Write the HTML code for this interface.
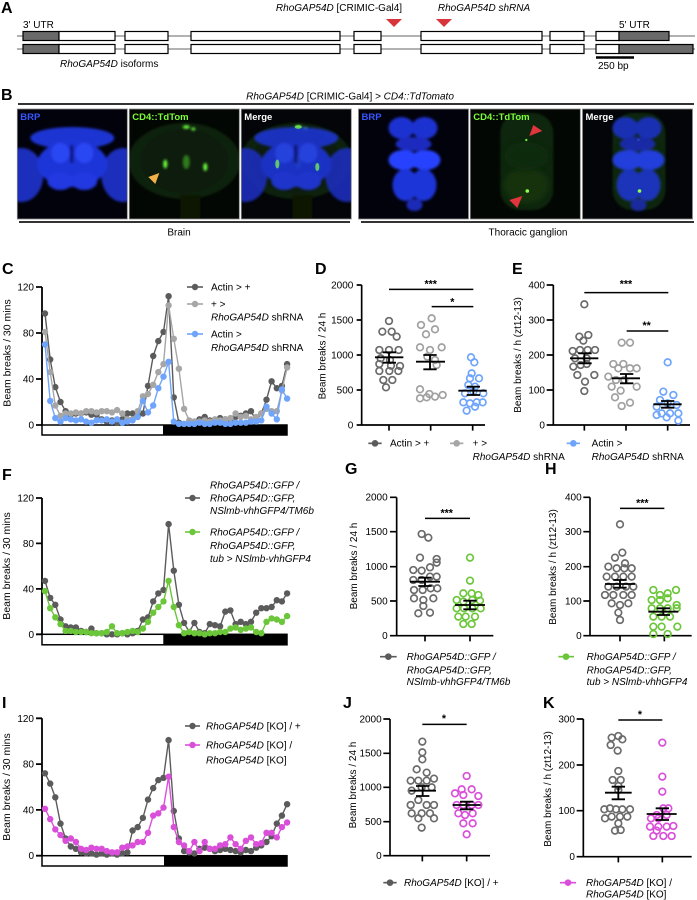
<!DOCTYPE html>
<html><head><meta charset="utf-8"><style>
html,body{margin:0;padding:0;background:#fff}
svg{display:block;font-family:"Liberation Sans",Arial,sans-serif}
</style></head><body>
<svg width="697" height="900" viewBox="0 0 697 900" xmlns="http://www.w3.org/2000/svg">
<defs>
<filter id="b1" x="-20%" y="-20%" width="140%" height="140%"><feGaussianBlur stdDeviation="1.2"/></filter>
<filter id="b3" x="-30%" y="-30%" width="160%" height="160%"><feGaussianBlur stdDeviation="3"/></filter>
<marker id="mDG" markerUnits="userSpaceOnUse" markerWidth="8" markerHeight="8" refX="4" refY="4"><circle cx="4" cy="4" r="3.2" fill="#5b5b5b"/></marker>
<marker id="mLG" markerUnits="userSpaceOnUse" markerWidth="8" markerHeight="8" refX="4" refY="4"><circle cx="4" cy="4" r="3.2" fill="#a6a6a6"/></marker>
<marker id="mBL" markerUnits="userSpaceOnUse" markerWidth="8" markerHeight="8" refX="4" refY="4"><circle cx="4" cy="4" r="3.2" fill="#6ea4fb"/></marker>
<marker id="mGR" markerUnits="userSpaceOnUse" markerWidth="8" markerHeight="8" refX="4" refY="4"><circle cx="4" cy="4" r="3.2" fill="#6cc63a"/></marker>
<marker id="mMG" markerUnits="userSpaceOnUse" markerWidth="8" markerHeight="8" refX="4" refY="4"><circle cx="4" cy="4" r="3.2" fill="#da4fda"/></marker>
<clipPath id="c1"><rect x="0" y="0" width="110" height="110"/></clipPath>
<g id="brainBlue">
 <g filter="url(#b1)">
  <ellipse cx="4" cy="66" rx="22" ry="27" fill="#1c2dbc"/>
  <ellipse cx="106" cy="66" rx="22" ry="27" fill="#1c2dbc"/>
  <ellipse cx="55" cy="29" rx="42" ry="11" fill="#1f34d2"/>
  <ellipse cx="55" cy="55" rx="35" ry="23" fill="#1f35d8"/>
  <ellipse cx="43" cy="72" rx="13" ry="9" fill="#2238e0"/>
  <ellipse cx="67" cy="72" rx="13" ry="9" fill="#2238e0"/>
  <ellipse cx="43" cy="44" rx="9" ry="10" fill="#2a46f4"/>
  <ellipse cx="67" cy="44" rx="9" ry="10" fill="#2a46f4"/>
  <rect x="53" y="36" width="3" height="18" fill="#0a1170"/>
 </g>
</g>
<g id="brainGreen">
 <g filter="url(#b1)">
  <ellipse cx="55" cy="52" rx="56" ry="38" fill="#0e220a"/>
  <ellipse cx="55" cy="52" rx="44" ry="32" fill="#0b1c07"/>
  <rect x="51" y="86" width="20" height="24" fill="#091806"/>
 </g>
 <g filter="url(#b1)" fill="#6cff3c">
  <ellipse cx="57" cy="18" rx="3.5" ry="1.8"/>
  <ellipse cx="64" cy="20" rx="2" ry="1.5"/>
  <ellipse cx="36" cy="55" rx="2" ry="4.5"/>
  <ellipse cx="76" cy="58" rx="2" ry="4"/>
  <ellipse cx="57" cy="53" rx="3.5" ry="7" fill="#2f7a1c"/>
 </g>
</g>
<g id="tgBlue">
 <g filter="url(#b1)">
  <ellipse cx="43" cy="19" rx="13" ry="11" fill="#1d32d0"/>
  <ellipse cx="66" cy="19" rx="13" ry="11" fill="#1d32d0"/>
  <ellipse cx="55" cy="35" rx="18" ry="7" fill="#1a2cc0"/>
  <ellipse cx="45" cy="51" rx="15" ry="10" fill="#2842ff"/>
  <ellipse cx="67" cy="51" rx="15" ry="10" fill="#2842ff"/>
  <ellipse cx="47" cy="76" rx="13" ry="16" fill="#1f35d8"/>
  <ellipse cx="65" cy="76" rx="13" ry="16" fill="#1f35d8"/>
  <ellipse cx="56" cy="96" rx="8" ry="6" fill="#1a2cb8"/>
 </g>
</g>
<g id="tgGreen">
 <rect x="30" y="4" width="53" height="97" rx="20" fill="#0d2509" filter="url(#b1)"/>
 <ellipse cx="56" cy="76" rx="22" ry="18" fill="#14330d" filter="url(#b3)"/>
 <ellipse cx="56" cy="47" rx="22" ry="14" fill="#112a0b" filter="url(#b3)"/>
 <circle cx="57" cy="82" r="1.8" fill="#8dff50"/>
 <circle cx="56" cy="31" r="1.2" fill="#6ee040"/>
</g>
</defs>

<!-- ============ PANEL A ============ -->
<text x="1" y="13" font-size="16" font-weight="bold">A</text>
<g font-size="10">
<text x="339" y="11" text-anchor="middle"><tspan font-style="italic">RhoGAP54D</tspan> [CRIMIC-Gal4]</text>
<text x="484" y="11" text-anchor="middle" font-style="italic">RhoGAP54D shRNA</text>
<text x="23" y="28">3' UTR</text>
<text x="619" y="28">5' UTR</text>
<text x="60" y="67"><tspan font-style="italic">RhoGAP54D</tspan> isoforms</text>
<text x="598" y="69">250 bp</text>
</g>
<polygon points="386,19 402,19 394,27" fill="#d8343b"/>
<polygon points="436,19 452,19 444,27" fill="#d8343b"/>
<line x1="17" y1="36" x2="695" y2="36" stroke="#999" stroke-width="1.5"/>
<line x1="17" y1="49" x2="695" y2="49" stroke="#999" stroke-width="1.5"/>
<g stroke="#000" stroke-width="1.2" fill="#fff">
 <rect x="23" y="31.5" width="36" height="9" fill="#6a6a6a"/><rect x="59" y="31.5" width="56" height="9"/>
 <rect x="125" y="31.5" width="43" height="9"/><rect x="191" y="31.5" width="149" height="9"/>
 <rect x="354" y="31.5" width="27" height="9"/><rect x="421" y="31.5" width="121" height="9"/>
 <rect x="550" y="31.5" width="34" height="9"/><rect x="596" y="31.5" width="23" height="9"/>
 <rect x="619" y="31.5" width="50" height="9" fill="#6a6a6a"/>
 <rect x="23" y="44.5" width="36" height="9" fill="#6a6a6a"/><rect x="59" y="44.5" width="56" height="9"/>
 <rect x="125" y="44.5" width="43" height="9"/><rect x="191" y="44.5" width="149" height="9"/>
 <rect x="354" y="44.5" width="27" height="9"/><rect x="421" y="44.5" width="121" height="9"/>
 <rect x="550" y="44.5" width="34" height="9"/><rect x="596" y="44.5" width="23" height="9"/>
 <rect x="619" y="44.5" width="74" height="9" fill="#6a6a6a"/>
</g>
<line x1="596" y1="57.5" x2="634" y2="57.5" stroke="#000" stroke-width="2.5"/>

<!-- ============ PANEL B ============ -->
<text x="1" y="100" font-size="16" font-weight="bold">B</text>
<text x="350" y="99.5" font-size="10" text-anchor="middle"><tspan font-style="italic">RhoGAP54D</tspan> [CRIMIC-Gal4]  <tspan font-style="italic">&gt; CD4::TdTomato</tspan></text>
<line x1="18" y1="104" x2="694" y2="104" stroke="#333" stroke-width="2"/>
<line x1="19" y1="222" x2="350" y2="222" stroke="#333" stroke-width="2"/>
<line x1="361" y1="222" x2="694" y2="222" stroke="#333" stroke-width="2"/>
<text x="179" y="235.5" font-size="10" text-anchor="middle">Brain</text>
<text x="528" y="235.5" font-size="10" text-anchor="middle">Thoracic ganglion</text>

<g transform="translate(17.3,109)"><g clip-path="url(#c1)"><rect width="110" height="110" fill="#02020c"/><use href="#brainBlue"/></g><rect width="110" height="110" fill="none" stroke="#8a8a8a" stroke-width="0.8"/><text x="3" y="11" font-size="9.5" font-weight="bold" fill="#3656ff">BRP</text></g>
<g transform="translate(129.3,109)"><g clip-path="url(#c1)"><rect width="110" height="110" fill="#030703"/><use href="#brainGreen"/><polygon points="30,64 19,68 26,75" fill="#f2b24a"/></g><rect width="110" height="110" fill="none" stroke="#8a8a8a" stroke-width="0.8"/><text x="3" y="11" font-size="9.5" font-weight="bold" fill="#7dff3a">CD4::TdTom</text></g>
<g transform="translate(241.3,109)"><g clip-path="url(#c1)"><rect width="110" height="110" fill="#030508"/><use href="#brainGreen"/><use href="#brainBlue" opacity="0.9"/><g fill="#7dff4a" opacity="0.7"><ellipse cx="57" cy="18" rx="3.5" ry="1.8"/><ellipse cx="36" cy="55" rx="2" ry="4.5"/><ellipse cx="76" cy="58" rx="2" ry="4"/></g></g><rect width="110" height="110" fill="none" stroke="#8a8a8a" stroke-width="0.8"/><text x="3" y="11" font-size="9.5" font-weight="bold" fill="#fff">Merge</text></g>
<g transform="translate(358.5,109)"><g clip-path="url(#c1)"><rect width="110" height="110" fill="#02020c"/><use href="#tgBlue"/></g><rect width="110" height="110" fill="none" stroke="#8a8a8a" stroke-width="0.8"/><text x="3" y="11" font-size="9.5" font-weight="bold" fill="#3656ff">BRP</text></g>
<g transform="translate(470.3,109)"><g clip-path="url(#c1)"><rect width="110" height="110" fill="#030703"/><use href="#tgGreen"/><polygon points="59,27 63,16 72,22" fill="#e0353c"/><polygon points="52,87 39,91 47,99" fill="#e0353c"/></g><rect width="110" height="110" fill="none" stroke="#8a8a8a" stroke-width="0.8"/><text x="3" y="11" font-size="9.5" font-weight="bold" fill="#7dff3a">CD4::TdTom</text></g>
<g transform="translate(582.5,109)"><g clip-path="url(#c1)"><rect width="110" height="110" fill="#030508"/><use href="#tgGreen"/><use href="#tgBlue" opacity="0.85"/><circle cx="57" cy="82" r="1.8" fill="#8dff50"/></g><rect width="110" height="110" fill="none" stroke="#8a8a8a" stroke-width="0.8"/><text x="3" y="11" font-size="9.5" font-weight="bold" fill="#fff">Merge</text></g>

<!-- ============ PANEL C ============ -->
<text x="2" y="274" font-size="16" font-weight="bold">C</text>
<text transform="translate(10.5,353) rotate(-90)" font-size="10.5" text-anchor="middle">Beam breaks / 30 mins</text>
<g font-size="10" text-anchor="end"><text x="34" y="290.5">120</text><text x="34" y="336.5">80</text><text x="34" y="382.5">40</text><text x="34" y="428.5">0</text></g>
<path d="M42 287V426M36 287H42M36 333H42M36 379H42M36 425H42" stroke="#000" stroke-width="1.8" fill="none"/>
<rect x="42" y="425" width="245" height="10" fill="#fff" stroke="#000" stroke-width="1.5"/>
<rect x="163" y="425" width="124" height="10" fill="#000"/>
<g fill="none" stroke-width="1.4">
<polyline stroke="#5b5b5b" marker-start="url(#mDG)" marker-mid="url(#mDG)" marker-end="url(#mDG)" points="45,313.5 50.2,359.5 55.3,387.1 60.5,402 65.6,411.2 70.8,414.7 75.9,413.5 81.1,413.5 86.2,412.4 91.4,414.7 96.5,414.7 101.7,419.3 106.8,421.6 112,420.4 117.1,422.7 122.3,419.3 127.4,413.5 132.6,413.5 137.7,415.8 142.9,413.5 148,385.9 153.2,356 158.3,341.1 163.5,331.9 168.6,296.2 173.8,397.4 178.9,422.7 184.1,423.9 189.2,422.7 194.4,421.6 199.5,419.3 204.7,417 209.8,420.4 215,421.6 220.1,418.1 225.3,419.3 230.4,419.3 235.6,417 240.7,415.8 245.9,413.5 251,411.2 256.2,420.4 261.3,413.5 266.5,399.7 271.6,381.3 276.8,388.2 281.9,385.9 287.1,364.1"/>
<polyline stroke="#a6a6a6" marker-start="url(#mLG)" marker-mid="url(#mLG)" marker-end="url(#mLG)" points="45,331.9 50.2,372.1 55.3,405.5 60.5,415.8 65.6,413.5 70.8,413.5 75.9,412.4 81.1,413.5 86.2,411.2 91.4,411.2 96.5,412.4 101.7,411.2 106.8,411.2 112,412.4 117.1,410.1 122.3,413.5 127.4,419.3 132.6,419.3 137.7,411.2 142.9,396.3 148,394 153.2,384.8 158.3,372.1 163.5,364.1 168.6,305.4 173.8,338.8 178.9,368.7 184.1,408.9 189.2,420.4 194.4,421.6 199.5,421.6 204.7,420.4 209.8,421.6 215,419.3 220.1,420.4 225.3,419.3 230.4,418.1 235.6,413.5 240.7,417 245.9,415.8 251,419.3 256.2,417 261.3,413.5 266.5,408.9 271.6,411.2 276.8,411.2 281.9,390.5 287.1,367.5"/>
<polyline stroke="#6ea4fb" marker-start="url(#mBL)" marker-mid="url(#mBL)" marker-end="url(#mBL)" points="45,344.5 50.2,400.9 55.3,418.1 60.5,421.6 65.6,418.1 70.8,419.3 75.9,420.4 81.1,419.3 86.2,421.6 91.4,422.7 96.5,420.4 101.7,420.4 106.8,419.3 112,421.6 117.1,419.3 122.3,422.7 127.4,421.6 132.6,420.4 137.7,417 142.9,400.9 148,412.4 153.2,405.5 158.3,388.2 163.5,376.7 168.6,361.8 173.8,421.6 178.9,423.9 184.1,423.9 189.2,423.9 194.4,423.9 199.5,422.7 204.7,423.9 209.8,423.9 215,422.7 220.1,422.7 225.3,423.9 230.4,423.9 235.6,422.7 240.7,422.7 245.9,422.7 251,421.6 256.2,421.6 261.3,420.4 266.5,406.6 271.6,413.5 276.8,419.3 281.9,389.4 287.1,398.6"/>
</g>
<g stroke-width="1.6">
<line x1="187" y1="287" x2="203" y2="287" stroke="#5b5b5b"/><circle cx="195" cy="287" r="3.2" fill="#5b5b5b"/>
<line x1="187" y1="304" x2="203" y2="304" stroke="#a6a6a6"/><circle cx="195" cy="304" r="3.2" fill="#a6a6a6"/>
<line x1="187" y1="334" x2="203" y2="334" stroke="#6ea4fb"/><circle cx="195" cy="334" r="3.2" fill="#6ea4fb"/>
</g>
<g font-size="10">
<text x="211" y="290.5">Actin &gt; +</text>
<text x="211" y="307.5">+ &gt;</text>
<text x="211" y="320.5"><tspan font-style="italic">RhoGAP54D</tspan> shRNA</text>
<text x="211" y="337.5">Actin &gt;</text>
<text x="211" y="351"><tspan font-style="italic">RhoGAP54D</tspan> shRNA</text>
</g>

<!-- ============ PANEL D / E ============ -->
<text x="315" y="274" font-size="16" font-weight="bold">D</text>
<text x="512" y="274" font-size="16" font-weight="bold">E</text>
<text transform="translate(325.5,356) rotate(-90)" font-size="10" text-anchor="middle">Beam breaks / 24 h</text>
<text transform="translate(521,355) rotate(-90)" font-size="10" text-anchor="middle">Beam breaks /  h (zt12-13)</text>
<g transform="translate(290,240) scale(0.333333)" font-size="30">
 <path d="M215 135V555H585M200 135H215M200 240H215M200 345H215M200 450H215M200 555H215M297 555V572M422 555V572M548 555V572" stroke="#000" stroke-width="5" fill="none"/>
 <g text-anchor="end"><text x="190" y="145">2000</text><text x="190" y="250">1500</text><text x="190" y="355">1000</text><text x="190" y="460">500</text><text x="190" y="565">0</text></g>
 <path d="M790 135V555H1200M770 135H790M770 240H790M770 345H790M770 450H790M770 555H790M883 555V572M1008 555V572M1133 555V572" stroke="#000" stroke-width="5" fill="none"/>
 <g text-anchor="end"><text x="765" y="145">400</text><text x="765" y="250">300</text><text x="765" y="355">200</text><text x="765" y="460">100</text><text x="765" y="565">0</text></g>
 <path d="M297 148H550M425 200H550M883 158H1135M1010 273H1135" stroke="#000" stroke-width="4.5"/>
 <g text-anchor="middle" font-weight="bold" font-size="32"><text x="422" y="142">***</text><text x="487" y="196">*</text><text x="1008" y="142">***</text><text x="1070" y="267">**</text></g>
 <g fill="none" stroke-width="5">
  <g stroke="#6b6b6b">
   <circle cx="297" cy="243" r="10"/><circle cx="277" cy="275" r="10"/><circle cx="305" cy="275" r="10"/><circle cx="320" cy="290" r="10"/><circle cx="268" cy="330" r="10"/><circle cx="297" cy="330" r="10"/><circle cx="326" cy="330" r="10"/><circle cx="272" cy="355" r="10"/><circle cx="300" cy="360" r="10"/><circle cx="268" cy="372" r="10"/><circle cx="303" cy="377" r="10"/><circle cx="330" cy="378" r="10"/><circle cx="268" cy="393" r="10"/><circle cx="298" cy="393" r="10"/><circle cx="325" cy="393" r="10"/><circle cx="280" cy="420" r="10"/><circle cx="307" cy="420" r="10"/><circle cx="288" cy="442" r="10"/>
   <circle cx="883" cy="193" r="10"/><circle cx="868" cy="290" r="10"/><circle cx="895" cy="285" r="10"/><circle cx="880" cy="302" r="10"/><circle cx="848" cy="333" r="10"/><circle cx="870" cy="330" r="10"/><circle cx="893" cy="330" r="10"/><circle cx="915" cy="330" r="10"/><circle cx="855" cy="355" r="10"/><circle cx="890" cy="355" r="10"/><circle cx="850" cy="380" r="10"/><circle cx="872" cy="375" r="10"/><circle cx="890" cy="372" r="10"/><circle cx="913" cy="405" r="10"/><circle cx="862" cy="405" r="10"/><circle cx="885" cy="425" r="10"/><circle cx="883" cy="453" r="10"/>
  </g>
  <g stroke="#a0a0a0">
   <circle cx="425" cy="235" r="10"/><circle cx="393" cy="255" r="10"/><circle cx="435" cy="268" r="10"/><circle cx="408" cy="283" r="10"/><circle cx="390" cy="322" r="10"/><circle cx="455" cy="322" r="10"/><circle cx="420" cy="330" r="10"/><circle cx="412" cy="350" r="10"/><circle cx="435" cy="360" r="10"/><circle cx="440" cy="375" r="10"/><circle cx="390" cy="448" r="10"/><circle cx="418" cy="462" r="10"/><circle cx="390" cy="475" r="10"/><circle cx="410" cy="472" r="10"/><circle cx="435" cy="470" r="10"/><circle cx="458" cy="465" r="10"/>
   <circle cx="995" cy="308" r="10"/><circle cx="1020" cy="308" r="10"/><circle cx="970" cy="372" r="10"/><circle cx="1000" cy="372" r="10"/><circle cx="1040" cy="385" r="10"/><circle cx="985" cy="385" r="10"/><circle cx="1020" cy="385" r="10"/><circle cx="955" cy="410" r="10"/><circle cx="978" cy="420" r="10"/><circle cx="1003" cy="420" r="10"/><circle cx="1040" cy="440" r="10"/><circle cx="965" cy="440" r="10"/><circle cx="992" cy="452" r="10"/><circle cx="975" cy="472" r="10"/><circle cx="1020" cy="488" r="10"/><circle cx="995" cy="498" r="10"/>
  </g>
  <g stroke="#6ea4fb">
   <circle cx="543" cy="352" r="10"/><circle cx="553" cy="367" r="10"/><circle cx="545" cy="400" r="10"/><circle cx="540" cy="415" r="10"/><circle cx="567" cy="415" r="10"/><circle cx="535" cy="435" r="10"/><circle cx="555" cy="440" r="10"/><circle cx="525" cy="460" r="10"/><circle cx="550" cy="455" r="10"/><circle cx="580" cy="460" r="10"/><circle cx="520" cy="487" r="10"/><circle cx="540" cy="490" r="10"/><circle cx="560" cy="487" r="10"/><circle cx="578" cy="487" r="10"/><circle cx="530" cy="512" r="10"/><circle cx="555" cy="500" r="10"/>
   <circle cx="1133" cy="367" r="10"/><circle cx="1120" cy="455" r="10"/><circle cx="1150" cy="465" r="10"/><circle cx="1110" cy="480" r="10"/><circle cx="1133" cy="490" r="10"/><circle cx="1100" cy="500" r="10"/><circle cx="1160" cy="495" r="10"/><circle cx="1115" cy="520" r="10"/><circle cx="1140" cy="520" r="10"/><circle cx="1165" cy="520" r="10"/><circle cx="1100" cy="525" r="10"/><circle cx="1130" cy="532" r="10"/><circle cx="1165" cy="542" r="10"/>
  </g>
 </g>
 <path d="M255 352H340M297 337V368M278 337H318M278 368H318 M378 365H465M420 345V388M400 345H440M400 388H440 M505 452H590M550 440V465M530 440H570M530 465H570 M840 355H925M883 340V370M865 340H905M865 370H905 M965 415H1050M1008 402V430M990 402H1030M990 430H1030 M1090 493H1175M1133 483V503M1113 483H1153M1113 503H1153" stroke="#000" stroke-width="5.5" fill="none"/>
 <g stroke-width="5">
  <line x1="235" y1="610" x2="275" y2="610" stroke="#5b5b5b"/><circle cx="255" cy="610" r="10" fill="#5b5b5b"/>
  <line x1="480" y1="610" x2="520" y2="610" stroke="#a6a6a6"/><circle cx="500" cy="610" r="10" fill="#a6a6a6"/>
  <line x1="830" y1="610" x2="870" y2="610" stroke="#6ea4fb"/><circle cx="850" cy="610" r="10" fill="#6ea4fb"/>
 </g>
 <text x="300" y="620">Actin &gt; +</text>
 <text x="548" y="620">+ &gt;</text>
 <text x="548" y="660"><tspan font-style="italic">RhoGAP54D</tspan> shRNA</text>
 <text x="905" y="620">Actin &gt;</text>
 <text x="905" y="660"><tspan font-style="italic">RhoGAP54D</tspan> shRNA</text>
</g>

<!-- ============ PANEL F ============ -->
<text x="2" y="480" font-size="16" font-weight="bold">F</text>
<text transform="translate(10,566) rotate(-90)" font-size="10.5" text-anchor="middle">Beam breaks / 30 mins</text>
<g font-size="10" text-anchor="end"><text x="34" y="501.5">120</text><text x="34" y="547">80</text><text x="34" y="592.4">40</text><text x="34" y="637.8">0</text></g>
<path d="M42 498V635M36 498H42M36 543.4H42M36 588.9H42M36 634.3H42" stroke="#000" stroke-width="1.8" fill="none"/>
<rect x="42" y="634.3" width="245" height="10.5" fill="#fff" stroke="#000" stroke-width="1.5"/>
<rect x="163.3" y="634.3" width="123.7" height="10.5" fill="#000"/>
<g fill="none" stroke-width="1.4">
<polyline stroke="#5b5b5b" marker-start="url(#mDG)" marker-mid="url(#mDG)" marker-end="url(#mDG)" points="45,580.9 50.2,597.9 55.3,604.8 60.5,619.5 65.6,626.3 70.8,627.5 75.9,627.5 81.1,630.9 86.2,632 91.4,628.6 96.5,633.2 101.7,633.2 106.8,634.3 112,634.3 117.1,634.3 122.3,633.2 127.4,634.3 132.6,633.2 137.7,630.9 142.9,619.5 148,617.3 153.2,601.4 158.3,593.4 163.5,590 168.6,524.1 173.8,570.7 178.9,604.8 184.1,622.9 189.2,632 194.4,622.9 199.5,632 204.7,633.2 209.8,624.1 215,625.2 220.1,626.3 225.3,611.6 230.4,610.4 235.6,624.1 240.7,621.8 245.9,624.1 251,621.8 256.2,612.7 261.3,608.2 266.5,608.2 271.6,607 276.8,600.2 281.9,601.4 287.1,593.4"/>
<polyline stroke="#6cc63a" marker-start="url(#mGR)" marker-mid="url(#mGR)" marker-end="url(#mGR)" points="45,591.1 50.2,608.2 55.3,617.3 60.5,624.1 65.6,630.9 70.8,630.9 75.9,632 81.1,632 86.2,632 91.4,633.2 96.5,633.2 101.7,633.2 106.8,632 112,626.3 117.1,633.2 122.3,633.2 127.4,632 132.6,630.9 137.7,632 142.9,628.6 148,621.8 153.2,612.7 158.3,607 163.5,601.4 168.6,580.9 173.8,607 178.9,625.2 184.1,633.2 189.2,632 194.4,633.2 199.5,633.2 204.7,634.3 209.8,633.2 215,633.2 220.1,632 225.3,632 230.4,628.6 235.6,627.5 240.7,629.8 245.9,628.6 251,627.5 256.2,632 261.3,633.2 266.5,621.8 271.6,618.4 276.8,619.5 281.9,621.8 287.1,616.1"/>
</g>
<g stroke-width="1.6">
<line x1="185" y1="498" x2="200" y2="498" stroke="#5b5b5b"/><circle cx="192.5" cy="498" r="3.2" fill="#5b5b5b"/>
<line x1="185" y1="532" x2="200" y2="532" stroke="#6cc63a"/><circle cx="192.5" cy="532" r="3.2" fill="#6cc63a"/>
</g>
<g font-size="10" font-style="italic">
<text x="210" y="488.5">RhoGAP54D::GFP /</text>
<text x="210" y="501.5">RhoGAP54D::GFP,</text>
<text x="210" y="514">NSlmb-vhhGFP4/TM6b</text>
<text x="210" y="535.5">RhoGAP54D::GFP /</text>
<text x="210" y="549">RhoGAP54D::GFP,</text>
<text x="210" y="562">tub &gt; NSlmb-vhhGFP4</text>
</g>

<!-- ============ PANEL G / H ============ -->
<text x="345" y="474" font-size="16" font-weight="bold">G</text>
<text x="545" y="474" font-size="16" font-weight="bold">H</text>
<text transform="translate(357,566) rotate(-90)" font-size="10" text-anchor="middle">Beam breaks / 24 h</text>
<text transform="translate(556,567) rotate(-90)" font-size="10" text-anchor="middle">Beam breaks /  h (zt12-13)</text>
<g transform="translate(290,480) scale(0.333333)" font-size="30">
 <path d="M320 52V467H610M300 52H320M300 155H320M300 260H320M300 363H320M300 467H320M405 467V484M540 467V484" stroke="#000" stroke-width="5" fill="none"/>
 <g text-anchor="end"><text x="293" y="62">2000</text><text x="293" y="165">1500</text><text x="293" y="270">1000</text><text x="293" y="373">500</text><text x="293" y="477">0</text></g>
 <path d="M900 52V467H1205M880 52H900M880 155H900M880 260H900M880 363H900M880 467H900M990 467V484M1123 467V484" stroke="#000" stroke-width="5" fill="none"/>
 <g text-anchor="end"><text x="875" y="62">400</text><text x="875" y="165">300</text><text x="875" y="270">200</text><text x="875" y="373">100</text><text x="875" y="477">0</text></g>
 <path d="M405 115H540M990 85H1123" stroke="#000" stroke-width="4.5"/>
 <g text-anchor="middle" font-weight="bold" font-size="32"><text x="470" y="110">***</text><text x="1057" y="80">***</text></g>
 <g fill="none" stroke-width="5">
  <g stroke="#6b6b6b">
   <circle cx="395" cy="162" r="10"/><circle cx="415" cy="173" r="10"/><circle cx="390" cy="233" r="10"/><circle cx="440" cy="237" r="10"/><circle cx="370" cy="270" r="10"/><circle cx="395" cy="272" r="10"/><circle cx="420" cy="262" r="10"/><circle cx="440" cy="248" r="10"/><circle cx="370" cy="300" r="10"/><circle cx="395" cy="300" r="10"/><circle cx="420" cy="290" r="10"/><circle cx="440" cy="290" r="10"/><circle cx="372" cy="330" r="10"/><circle cx="398" cy="330" r="10"/><circle cx="422" cy="325" r="10"/><circle cx="442" cy="325" r="10"/><circle cx="372" cy="355" r="10"/><circle cx="400" cy="360" r="10"/><circle cx="430" cy="355" r="10"/><circle cx="385" cy="400" r="10"/><circle cx="420" cy="398" r="10"/><circle cx="400" cy="378" r="10"/>
   <circle cx="990" cy="133" r="10"/><circle cx="997" cy="218" r="10"/><circle cx="975" cy="233" r="10"/><circle cx="1005" cy="250" r="10"/><circle cx="955" cy="260" r="10"/><circle cx="980" cy="265" r="10"/><circle cx="1003" cy="265" r="10"/><circle cx="1025" cy="265" r="10"/><circle cx="950" cy="290" r="10"/><circle cx="975" cy="290" r="10"/><circle cx="1000" cy="290" r="10"/><circle cx="1025" cy="290" r="10"/><circle cx="955" cy="320" r="10"/><circle cx="980" cy="320" r="10"/><circle cx="1008" cy="320" r="10"/><circle cx="1030" cy="320" r="10"/><circle cx="945" cy="345" r="10"/><circle cx="970" cy="345" r="10"/><circle cx="1000" cy="345" r="10"/><circle cx="1025" cy="345" r="10"/><circle cx="965" cy="370" r="10"/><circle cx="990" cy="375" r="10"/><circle cx="1015" cy="370" r="10"/><circle cx="985" cy="398" r="10"/><circle cx="990" cy="420" r="10"/>
  </g>
  <g stroke="#6cc63a">
   <circle cx="540" cy="233" r="10"/><circle cx="540" cy="302" r="10"/><circle cx="520" cy="340" r="10"/><circle cx="545" cy="340" r="10"/><circle cx="565" cy="345" r="10"/><circle cx="500" cy="360" r="10"/><circle cx="520" cy="365" r="10"/><circle cx="547" cy="360" r="10"/><circle cx="570" cy="362" r="10"/><circle cx="500" cy="385" r="10"/><circle cx="522" cy="385" r="10"/><circle cx="547" cy="385" r="10"/><circle cx="572" cy="385" r="10"/><circle cx="505" cy="410" r="10"/><circle cx="527" cy="410" r="10"/><circle cx="555" cy="410" r="10"/><circle cx="520" cy="432" r="10"/><circle cx="545" cy="432" r="10"/>
   <circle cx="1090" cy="330" r="10"/><circle cx="1110" cy="345" r="10"/><circle cx="1133" cy="340" r="10"/><circle cx="1158" cy="330" r="10"/><circle cx="1085" cy="360" r="10"/><circle cx="1110" cy="360" r="10"/><circle cx="1133" cy="355" r="10"/><circle cx="1160" cy="375" r="10"/><circle cx="1085" cy="385" r="10"/><circle cx="1110" cy="385" r="10"/><circle cx="1133" cy="385" r="10"/><circle cx="1160" cy="385" r="10"/><circle cx="1090" cy="410" r="10"/><circle cx="1115" cy="410" r="10"/><circle cx="1140" cy="410" r="10"/><circle cx="1162" cy="440" r="10"/><circle cx="1090" cy="440" r="10"/><circle cx="1115" cy="440" r="10"/><circle cx="1090" cy="462" r="10"/><circle cx="1133" cy="462" r="10"/>
  </g>
 </g>
 <path d="M360 305H450M405 293V318M385 293H425M385 318H425 M495 375H585M540 362V388M520 362H560M520 388H560 M945 312H1035M990 300V323M970 300H1010M970 323H1010 M1075 395H1165M1120 385V405M1100 385H1140M1100 405H1140" stroke="#000" stroke-width="5.5" fill="none"/>
 <g stroke-width="5">
  <line x1="270" y1="530" x2="320" y2="530" stroke="#5b5b5b"/><circle cx="295" cy="530" r="10" fill="#5b5b5b"/>
  <line x1="805" y1="530" x2="852" y2="530" stroke="#6cc63a"/><circle cx="828" cy="530" r="10" fill="#6cc63a"/>
 </g>
 <g font-style="italic">
  <text x="350" y="540">RhoGAP54D::GFP /</text><text x="350" y="580">RhoGAP54D::GFP,</text><text x="350" y="615">NSlmb-vhhGFP4/TM6b</text>
  <text x="890" y="540">RhoGAP54D::GFP /</text><text x="890" y="580">RhoGAP54D::GFP,</text><text x="890" y="615">tub &gt; NSlmb-vhhGFP4</text>
 </g>
</g>

<!-- ============ PANEL I ============ -->
<text x="2" y="708" font-size="16" font-weight="bold">I</text>
<text transform="translate(10,787) rotate(-90)" font-size="10.5" text-anchor="middle">Beam breaks / 30 mins</text>
<g font-size="10" text-anchor="end"><text x="34" y="721.8">120</text><text x="34" y="767.6">80</text><text x="34" y="813.4">40</text><text x="34" y="859.2">0</text></g>
<path d="M42 718.3V856.5M36 718.3H42M36 764.1H42M36 809.9H42M36 855.7H42" stroke="#000" stroke-width="1.8" fill="none"/>
<rect x="42" y="855.7" width="245" height="10.3" fill="#fff" stroke="#000" stroke-width="1.5"/>
<rect x="164" y="855.7" width="123" height="10.3" fill="#000"/>
<g fill="none" stroke-width="1.4">
<polyline stroke="#5b5b5b" marker-start="url(#mDG)" marker-mid="url(#mDG)" marker-end="url(#mDG)" points="45,773.3 50.2,783.6 55.3,797.3 60.5,823.6 65.6,838.5 70.8,846.5 75.9,848.8 81.1,852.3 86.2,853.4 91.4,853.4 96.5,854.6 101.7,853.4 106.8,854.6 112,853.4 117.1,854.6 122.3,853.4 127.4,852.3 132.6,830.5 137.7,827.1 142.9,817.9 148,799.6 153.2,788.1 158.3,780.1 163.5,777.8 168.6,740.1 173.8,811 178.9,838.5 184.1,851.1 189.2,852.3 194.4,853.4 199.5,848.8 204.7,847.7 209.8,848.8 215,851.1 220.1,850 225.3,848.8 230.4,850 235.6,851.1 240.7,852.3 245.9,850 251,851.1 256.2,847.7 261.3,845.4 266.5,842 271.6,836.2 276.8,823.6 281.9,815.6 287.1,804.2"/>
<polyline stroke="#da4fda" marker-start="url(#mMG)" marker-mid="url(#mMG)" marker-end="url(#mMG)" points="45,808.8 50.2,819.1 55.3,829.4 60.5,835.1 65.6,840.8 70.8,838.5 75.9,842 81.1,848.8 86.2,850 91.4,847.7 96.5,848.8 101.7,848.8 106.8,851.1 112,852.3 117.1,852.3 122.3,847.7 127.4,846.5 132.6,845.4 137.7,842 142.9,842 148,832.8 153.2,815.6 158.3,813.3 163.5,807.6 168.6,776.7 173.8,827.1 178.9,842 184.1,845.4 189.2,851.1 194.4,842 199.5,851.1 204.7,842 209.8,848.8 215,848.8 220.1,845.4 225.3,844.2 230.4,837.4 235.6,844.2 240.7,848.8 245.9,840.8 251,837.4 256.2,844.2 261.3,843.1 266.5,832.8 271.6,832.8 276.8,837.4 281.9,827.1 287.1,822.5"/>
</g>
<g stroke-width="1.6">
<line x1="185" y1="726" x2="200" y2="726" stroke="#5b5b5b"/><circle cx="192.5" cy="726" r="3.2" fill="#5b5b5b"/>
<line x1="185" y1="745" x2="200" y2="745" stroke="#da4fda"/><circle cx="192.5" cy="745" r="3.2" fill="#da4fda"/>
</g>
<g font-size="10">
<text x="206" y="729.5"><tspan font-style="italic">RhoGAP54D</tspan> [KO] / +</text>
<text x="206" y="748.5"><tspan font-style="italic">RhoGAP54D</tspan> [KO] /</text>
<text x="206" y="763.5"><tspan font-style="italic">RhoGAP54D</tspan> [KO]</text>
</g>

<!-- ============ PANEL J / K ============ -->
<text x="343" y="708" font-size="16" font-weight="bold">J</text>
<text x="543" y="708" font-size="16" font-weight="bold">K</text>
<text transform="translate(356,785) rotate(-90)" font-size="10" text-anchor="middle">Beam breaks / 24 h</text>
<text transform="translate(551,789) rotate(-90)" font-size="10" text-anchor="middle">Beam breaks /  h (zt12-13)</text>
<g transform="translate(290,700) scale(0.333333)" font-size="30">
 <path d="M300 57V467H600M280 57H300M280 160H300M280 262H300M280 365H300M280 467H300M397 467V484M530 467V484" stroke="#000" stroke-width="5" fill="none"/>
 <g text-anchor="end"><text x="275" y="67">2000</text><text x="275" y="170">1500</text><text x="275" y="272">1000</text><text x="275" y="375">500</text><text x="275" y="477">0</text></g>
 <path d="M880 57V470H1205M860 57H880M860 195H880M860 332H880M860 470H880M985 470V487M1117 470V487" stroke="#000" stroke-width="5" fill="none"/>
 <g text-anchor="end"><text x="855" y="67">300</text><text x="855" y="205">200</text><text x="855" y="342">100</text><text x="855" y="480">0</text></g>
 <path d="M397 73H530M985 60H1117" stroke="#000" stroke-width="4.5"/>
 <g text-anchor="middle" font-weight="bold" font-size="32"><text x="462" y="66">*</text><text x="1050" y="54">*</text></g>
 <g fill="none" stroke-width="5">
  <g stroke="#6b6b6b">
   <circle cx="397" cy="125" r="10"/><circle cx="397" cy="157" r="10"/><circle cx="397" cy="178" r="10"/><circle cx="380" cy="208" r="10"/><circle cx="410" cy="218" r="10"/><circle cx="362" cy="242" r="10"/><circle cx="385" cy="242" r="10"/><circle cx="410" cy="242" r="10"/><circle cx="432" cy="236" r="10"/><circle cx="365" cy="272" r="10"/><circle cx="395" cy="262" r="10"/><circle cx="425" cy="262" r="10"/><circle cx="362" cy="315" r="10"/><circle cx="385" cy="300" r="10"/><circle cx="410" cy="315" r="10"/><circle cx="432" cy="315" r="10"/><circle cx="365" cy="340" r="10"/><circle cx="395" cy="340" r="10"/><circle cx="420" cy="340" r="10"/><circle cx="385" cy="355" r="10"/><circle cx="432" cy="355" r="10"/><circle cx="395" cy="383" r="10"/>
   <circle cx="985" cy="108" r="10"/><circle cx="965" cy="113" r="10"/><circle cx="997" cy="118" r="10"/><circle cx="983" cy="152" r="10"/><circle cx="962" cy="135" r="10"/><circle cx="985" cy="213" r="10"/><circle cx="968" cy="240" r="10"/><circle cx="992" cy="240" r="10"/><circle cx="985" cy="258" r="10"/><circle cx="960" cy="325" r="10"/><circle cx="978" cy="328" r="10"/><circle cx="997" cy="328" r="10"/><circle cx="1020" cy="328" r="10"/><circle cx="943" cy="328" r="10"/><circle cx="965" cy="350" r="10"/><circle cx="990" cy="350" r="10"/><circle cx="1012" cy="350" r="10"/><circle cx="945" cy="355" r="10"/><circle cx="985" cy="370" r="10"/><circle cx="975" cy="392" r="10"/><circle cx="992" cy="390" r="10"/><circle cx="985" cy="270" r="10"/>
  </g>
  <g stroke="#da4fda">
   <circle cx="530" cy="228" r="10"/><circle cx="515" cy="268" r="10"/><circle cx="545" cy="268" r="10"/><circle cx="495" cy="280" r="10"/><circle cx="520" cy="285" r="10"/><circle cx="565" cy="288" r="10"/><circle cx="500" cy="315" r="10"/><circle cx="520" cy="315" r="10"/><circle cx="545" cy="315" r="10"/><circle cx="565" cy="315" r="10"/><circle cx="505" cy="340" r="10"/><circle cx="525" cy="345" r="10"/><circle cx="548" cy="340" r="10"/><circle cx="520" cy="370" r="10"/><circle cx="548" cy="370" r="10"/><circle cx="530" cy="403" r="10"/>
   <circle cx="1117" cy="128" r="10"/><circle cx="1117" cy="230" r="10"/><circle cx="1117" cy="275" r="10"/><circle cx="1120" cy="325" r="10"/><circle cx="1135" cy="325" r="10"/><circle cx="1100" cy="345" r="10"/><circle cx="1130" cy="345" r="10"/><circle cx="1083" cy="355" r="10"/><circle cx="1105" cy="355" r="10"/><circle cx="1150" cy="378" r="10"/><circle cx="1080" cy="380" r="10"/><circle cx="1105" cy="380" r="10"/><circle cx="1130" cy="380" r="10"/><circle cx="1090" cy="408" r="10"/><circle cx="1120" cy="408" r="10"/><circle cx="1145" cy="408" r="10"/><circle cx="1100" cy="392" r="10"/>
  </g>
 </g>
 <path d="M358 272H438M398 258V288M378 258H418M378 288H418 M488 315H572M530 305V328M510 305H550M510 328H550 M945 278H1025M985 260V298M965 260H1005M965 298H1005 M1070 342H1160M1117 325V360M1097 325H1137M1097 360H1137" stroke="#000" stroke-width="5.5" fill="none"/>
 <g stroke-width="5">
  <line x1="280" y1="548" x2="320" y2="548" stroke="#5b5b5b"/><circle cx="300" cy="548" r="10" fill="#5b5b5b"/>
  <line x1="810" y1="548" x2="858" y2="548" stroke="#da4fda"/><circle cx="834" cy="548" r="10" fill="#da4fda"/>
 </g>
 <text x="342" y="558"><tspan font-style="italic">RhoGAP54D</tspan> [KO] / +</text>
 <text x="888" y="558"><tspan font-style="italic">RhoGAP54D</tspan> [KO] /</text>
 <text x="888" y="592"><tspan font-style="italic">RhoGAP54D</tspan> [KO]</text>
</g>
</svg>
</body></html>
